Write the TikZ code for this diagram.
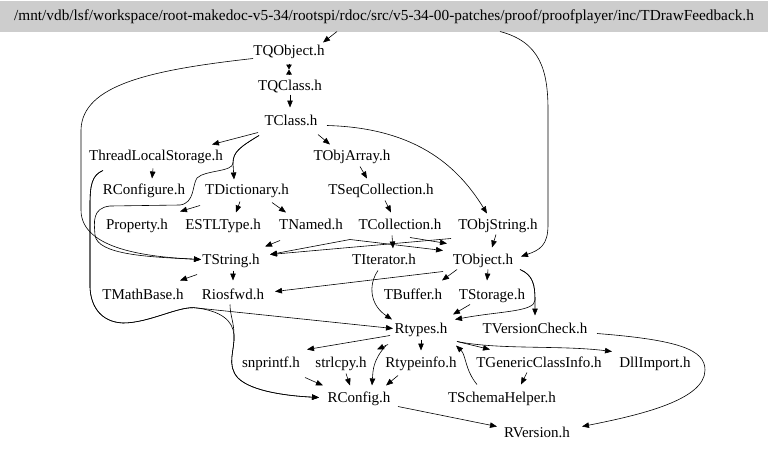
\documentclass[tikz,border=0pt]{standalone}
\usepackage{fontspec}
\setmainfont{Liberation Serif}
\usetikzlibrary{arrows.meta,calc}
\definecolor{rootgray}{RGB}{205,205,205}
\begin{document}
\begin{tikzpicture}[x=1pt,y=-1pt,
  lbl/.style={inner sep=0pt, font=\fontsize{15}{15}\selectfont, text height=10pt, text depth=3pt, yshift=-1.5pt},
  arr/.style={draw=black, line width=0.6pt, -{Triangle[length=7pt,width=5.5pt]}},
  smallarr/.style={draw=black, line width=0.6pt, -{Triangle[length=5pt,width=5.5pt]}}]
\useasboundingbox (0,0) rectangle (768,450);
\fill[white] (0,0) rectangle (768,450);
\node[lbl, font=\fontsize{15.3}{15.3}\selectfont, fill=rootgray, minimum width=768pt, minimum height=31pt, yshift=1.5pt] (root) at (384,16.5) {/mnt/vdb/lsf/workspace/root-makedoc-v5-34/rootspi/rdoc/src/v5-34-00-patches/proof/proofplayer/inc/TDrawFeedback.h};
\node[lbl] (tqobject) at (289,50) {TQObject.h};
\node[lbl] (tqclass) at (290,85) {TQClass.h};
\node[lbl] (tclass) at (291,120) {TClass.h};
\node[lbl] (tls) at (156,155) {ThreadLocalStorage.h};
\node[lbl] (tobjarray) at (352,155) {TObjArray.h};
\node[lbl] (rconfigure) at (144,189) {RConfigure.h};
\node[lbl] (tdict) at (247,189) {TDictionary.h};
\node[lbl] (tseqcoll) at (381,189) {TSeqCollection.h};
\node[lbl] (property) at (137,224) {Property.h};
\node[lbl] (estl) at (223,224) {ESTLType.h};
\node[lbl] (tnamed) at (311,224) {TNamed.h};
\node[lbl] (tcoll) at (400,224) {TCollection.h};
\node[lbl] (tobjstring) at (498,224) {TObjString.h};
\node[lbl] (tstring) at (231,259) {TString.h};
\node[lbl] (titer) at (384,259) {TIterator.h};
\node[lbl] (tobject) at (483,259) {TObject.h};
\node[lbl] (tmathbase) at (143,294) {TMathBase.h};
\node[lbl] (riosfwd) at (233,294) {Riosfwd.h};
\node[lbl] (tbuffer) at (413,294) {TBuffer.h};
\node[lbl] (tstorage) at (492,294) {TStorage.h};
\node[lbl] (rtypes) at (421,328) {Rtypes.h};
\node[lbl] (tversion) at (535,328) {TVersionCheck.h};
\node[lbl] (snprintf) at (271,362) {snprintf.h};
\node[lbl] (strlcpy) at (341,362) {strlcpy.h};
\node[lbl] (rtypeinfo) at (421,362) {Rtypeinfo.h};
\node[lbl] (tgeneric) at (539,362) {TGenericClassInfo.h};
\node[lbl] (dllimport) at (655,362) {DllImport.h};
\node[lbl] (rconfig) at (359,397) {RConfig.h};
\node[lbl] (tschema) at (502,397) {TSchemaHelper.h};
\node[lbl] (rversion) at (537,432) {RVersion.h};

\draw[arr] ($(root)+(-47,15)$) -- ($(tqobject)+(34,-9)$);
\draw[arr] ($(root)+(116,15)$) .. controls (540,42) and (548,70) .. (548,110) -- (548,225) .. controls (548,245) and (540,250) .. ($(tobject)+(38,-4)$);
\draw[smallarr] ($(tqobject)+(0,12)$) -- ($(tqclass)+(-1,-17)$);
\draw[smallarr] ($(tqclass)+(-1,-12)$) -- ($(tqobject)+(0,18)$);
\draw[arr] ($(tqobject)+(-36,7)$) .. controls (150,70) and (82,85) .. (81,130) -- (81,210) .. controls (81,250) and (150,257) .. ($(tstring)+(-30,-1)$);
\draw[arr] ($(tqclass)+(0,8)$) -- ($(tclass)+(-1,-14)$);
\draw[arr] ($(tclass)+(-33,11)$) -- ($(tls)+(56,-12)$);
\draw[arr] ($(tclass)+(-32,14)$) .. controls (240,147) and (233,152) .. (233,163) -- ($(tdict)+(-13,-11)$);
\draw[arr] ($(tclass)+(-32,14)$) .. controls (240,147) and (233,152) .. (233,163) .. controls (233,172) and (205,170) .. (197,178) .. controls (192,185) and (195,203) .. (180,205) -- (110,206) .. controls (92,208) and (94,222) .. (95,235) .. controls (97,255) and (150,257) .. ($(tstring)+(-30,-1)$);
\draw[arr] ($(tclass)+(27,13)$) -- ($(tobjarray)+(-22,-12)$);
\draw[arr] ($(tclass)+(36,4)$) .. controls (420,128) and (460,170) .. ($(tobjstring)+(-11,-12)$);
\draw[arr] ($(tls)+(-3,12)$) -- ($(rconfigure)+(8,-12)$);
\draw[arr] ($(tls)+(-53,14)$) .. controls (92,175) and (90,185) .. (90,205) -- (90,282) .. controls (89,305) and (100,322) .. (123,323) .. controls (150,323) and (180,305) .. (197,308) -- ($(rtypes)+(-28,-1)$);
\draw[arr] ($(tls)+(-53,14)$) .. controls (92,175) and (90,185) .. (90,205) -- (90,282) .. controls (89,305) and (100,322) .. (123,323) .. controls (150,323) and (180,305) .. (197,308) .. controls (220,311) and (233,320) .. (234,335) .. controls (235,350) and (226,365) .. (238,378) .. controls (252,392) and (290,396) .. ($(rconfig)+(-40,-1)$);
\draw[arr] ($(riosfwd)+(-3,9)$) .. controls (230,315) and (234,322) .. (234,335) .. controls (235,350) and (226,365) .. (238,378) .. controls (252,392) and (290,396) .. ($(rconfig)+(-40,-1)$);
\draw[arr] ($(tdict)+(-47,15)$) -- ($(property)+(43,-14)$);
\draw[arr] ($(tdict)+(-7,11)$) -- ($(estl)+(13,-13)$);
\draw[arr] ($(tdict)+(25,12)$) -- ($(tnamed)+(-25,-13)$);
\draw[arr] ($(tobjarray)+(8,10)$) -- ($(tseqcoll)+(-14,-12)$);
\draw[arr] ($(tseqcoll)+(4,10)$) -- ($(tcoll)+(-9,-13)$);
\draw[arr] ($(tnamed)+(-31,15)$) -- ($(tstring)+(34,-14)$);
\draw[arr] ($(tcoll)+(-50,14)$) -- ($(tstring)+(39,-6)$);
\draw[arr] ($(tnamed)+(39,14)$) -- ($(tobject)+(-40,-10)$);
\draw[arr] ($(tcoll)+(10,12)$) -- ($(tobject)+(-36,-17)$);
\draw[arr] ($(tobjstring)+(-47,13)$) -- ($(tstring)+(39,-6)$);
\draw[arr] ($(tcoll)+(-8,10)$) -- ($(titer)+(9,-12)$);
\draw[arr] ($(tobjstring)+(-2,9)$) -- ($(tobject)+(9,-13)$);
\draw[arr] ($(tstring)+(-34,14)$) -- ($(tmathbase)+(37,-15)$);
\draw[arr] ($(tstring)+(2,10)$) -- ($(riosfwd)+(0,-15)$);
\draw[arr] ($(tobject)+(-40,11)$) -- ($(riosfwd)+(42,-4)$);
\draw[arr] ($(tobject)+(-26,9)$) -- ($(tbuffer)+(29,-15)$);
\draw[arr] ($(tobject)+(5,9)$) -- ($(tstorage)+(-5,-15)$);
\draw[arr] ($(tobject)+(37,9)$) .. controls (533,275) and (535,285) .. (535,300) -- ($(tversion)+(0,-14)$);
\draw[arr] ($(tobject)+(37,9)$) .. controls (533,275) and (535,285) .. (535,300) .. controls (535,312) and (500,311) .. ($(rtypes)+(34,-10)$);
\draw[arr] ($(tstorage)+(-22,9)$) -- ($(rtypes)+(32,-15)$);
\draw[arr] ($(titer)+(-6,10)$) .. controls (368,285) and (370,305) .. ($(rtypes)+(-29,-10)$);
\draw[arr] ($(rtypes)+(-31,6)$) -- ($(snprintf)+(36,-14)$);
\draw[arr] ($(rtypes)+(-33,15)$) -- ($(strlcpy)+(36,-14)$);
\draw[arr] ($(rtypes)+(-35,16)$) .. controls (373,360) and (373,370) .. ($(rconfig)+(13,-13)$);
\draw[arr] ($(rtypes)+(0,10)$) -- ($(rtypeinfo)+(0,-13)$);
\draw[arr] ($(rtypes)+(36,12)$) -- ($(tgeneric)+(-49,-14)$);
\draw[arr] ($(rtypes)+(36,12)$) .. controls (500,350) and (560,345) .. ($(dllimport)+(-43,-12)$);
\draw[arr] ($(tschema)+(-25,-14)$) .. controls (465,370) and (466,355) .. ($(rtypes)+(35,16)$);
\draw[arr] ($(tgeneric)+(-12,9)$) -- ($(tschema)+(19,-14)$);
\draw[arr] ($(snprintf)+(34,14)$) -- ($(rconfig)+(-36,-13)$);
\draw[arr] ($(strlcpy)+(5,10)$) -- ($(rconfig)+(-9,-13)$);
\draw[arr] ($(rtypeinfo)+(-23,12)$) -- ($(rconfig)+(27,-13)$);
\draw[arr] ($(rconfig)+(39,8)$) -- ($(rversion)+(-40,-7)$);
\draw[arr] ($(tversion)+(62,4)$) .. controls (680,340) and (705,350) .. (705,370) .. controls (705,400) and (640,415) .. ($(rversion)+(45,-7)$);
\end{tikzpicture}
\end{document}
